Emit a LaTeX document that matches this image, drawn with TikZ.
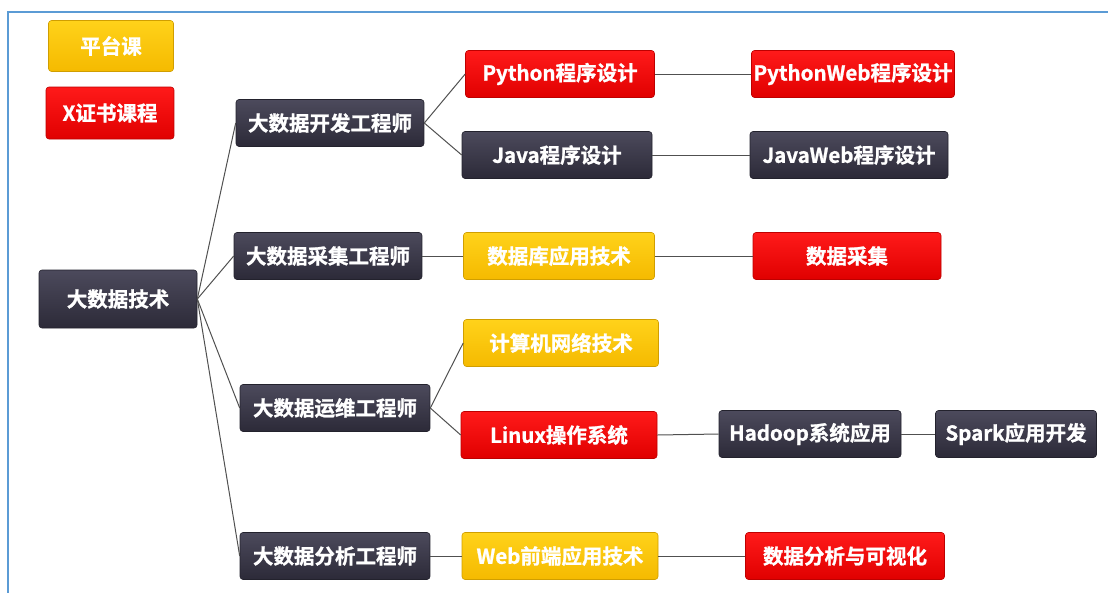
\documentclass[tikz,border=0pt]{standalone}
\usepackage{fontspec}
\setmainfont{Noto Sans CJK SC}[BoldFont={Noto Sans CJK SC Bold},BoldFeatures={FakeBold=1.2}]
\usepackage{tikz}
\usetikzlibrary{positioning,calc}

\definecolor{framecol}{HTML}{5B9BD5}
\definecolor{linecol}{HTML}{505050}
\definecolor{darktop}{HTML}{4C4A5C}
\definecolor{darkbot}{HTML}{2C2A38}
\definecolor{yeltop}{HTML}{FFD21A}
\definecolor{yelbot}{HTML}{F5BA00}
\definecolor{redtop}{HTML}{FF1A1A}
\definecolor{redbot}{HTML}{E00000}

\begin{document}
\begin{tikzpicture}[x=1pt,y=-1pt,
  basebox/.style={rounded corners=3pt,minimum height=47pt,inner sep=1pt,
    text=white,font=\fontsize{20.5}{22}\selectfont\bfseries,line width=0.6pt},
  darkbox/.style={basebox,draw=darkbot!80!black,top color=darktop,bottom color=darkbot,minimum width=#1},
  yellowbox/.style={basebox,draw=yelbot!85!black,top color=yeltop,bottom color=yelbot,minimum width=#1},
  redbox/.style={basebox,draw=redbot!85!black,top color=redtop,bottom color=redbot,minimum width=#1},
  link/.style={draw=linecol,line width=1pt}]
\useasboundingbox (0,0) rectangle (1108,592);
\draw[framecol,line width=2pt] (8,600) -- (8,12) -- (1116,12);

% legend
\node (plat)[yellowbox=125pt,minimum height=51pt] at (111,46) {平台课};
\node (cert)[redbox=128pt,minimum height=52pt] at (110,113) {X证书课程};

% root and roles
\node (root)[darkbox=158pt,minimum height=58pt] at (118,299) {大数据技术};
\node (dev)[darkbox=188pt] at (330,123) {大数据开发工程师};
\node (coll)[darkbox=188pt] at (328,256) {大数据采集工程师};
\node (ops)[darkbox=190pt] at (335,408) {大数据运维工程师};
\node (ana)[darkbox=190pt] at (335,556) {大数据分析工程师};

% courses
\node (py)[redbox=189pt] at (560,74) {Python程序设计};
\node (java)[darkbox=190pt] at (557,155) {Java程序设计};
\node (pyweb)[redbox=203pt] at (853,74) {PythonWeb程序设计};
\node (javaweb)[darkbox=198pt] at (849,155) {JavaWeb程序设计};
\node (db)[yellowbox=191pt] at (559,256) {数据库应用技术};
\node (gather)[redbox=188pt] at (847,256) {数据采集};
\node (net)[yellowbox=195pt] at (561,343) {计算机网络技术};
\node (linux)[redbox=196pt] at (559,435) {Linux操作系统};
\node (hadoop)[darkbox=182pt] at (810,434) {Hadoop系统应用};
\node (spark)[darkbox=161pt] at (1016,434) {Spark应用开发};
\node (web)[yellowbox=196pt] at (560,556) {Web前端应用技术};
\node (vis)[redbox=199pt] at (845,556) {数据分析与可视化};

\draw[link] (root.east) -- (dev.west);
\draw[link] (root.east) -- (coll.west);
\draw[link] (root.east) -- (ops.west);
\draw[link] (root.east) -- (ana.west);
\draw[link] (dev.east) -- (py.west);
\draw[link] (dev.east) -- (java.west);
\draw[link] (py.east) -- (pyweb.west);
\draw[link] (java.east) -- (javaweb.west);
\draw[link] (coll.east) -- (db.west);
\draw[link] (db.east) -- (gather.west);
\draw[link] (ops.east) -- (net.west);
\draw[link] (ops.east) -- (linux.west);
\draw[link] (linux.east) -- (hadoop.west);
\draw[link] (hadoop.east) -- (spark.west);
\draw[link] (ana.east) -- (web.west);
\draw[link] (web.east) -- (vis.west);
\end{tikzpicture}
\end{document}
